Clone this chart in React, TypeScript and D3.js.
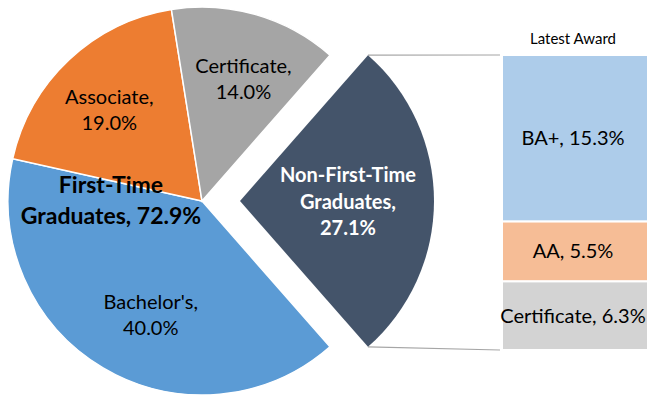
import * as d3 from 'd3';

const width = 647;
const height = 400;

// pie: first-time slices plus the combined "other" slice
const pieLabels = ["Non-First-Time Graduates", "Bachelor's", "Associate", "Certificate"];
const pieValues = [27.1, 40.0, 19.0, 14.0];
const pieColors = ['#44546A', '#5B9BD5', '#ED7D31', '#A5A5A5'];

// bar: breakdown of non-first-time graduates
const barLabels = ['BA+', 'AA', 'Certificate'];
const barValues = [15.3, 5.5, 6.3];
const barColors = ['#ADCCEA', '#F6BD96', '#D3D3D3'];

const firstTimeTotal = 72.9;

const cx = 202;
const cy = 201;
const radius = 194;
const explode = 38;

const fontFamily = 'Lato, "Open Sans", sans-serif';

const App = () => {
  const otherShare = pieValues[0] / d3.sum(pieValues);
  const start = Math.PI / 2 - otherShare * Math.PI;
  const slices = d3.pie<number>().sort(null).startAngle(start).endAngle(start + 2 * Math.PI)(pieValues);

  const sliceArc = d3.arc<d3.PieArcDatum<number>>().innerRadius(0).outerRadius(radius);
  const labelArc = d3.arc<d3.PieArcDatum<number>>().innerRadius(128).outerRadius(128);
  const otherLabelArc = d3.arc<d3.PieArcDatum<number>>().innerRadius(108).outerRadius(108);

  // small nudges to match where the labels sit
  const nudge = [[0, 0], [14, 4], [-5, 2], [6, 1]];

  const y = d3.scaleLinear().domain([0, d3.sum(barValues)]).range([55, 350]);
  const stacked = barValues.map((v, i) => ({ start: d3.sum(barValues.slice(0, i)), v }));
  const barX = 502;
  const barW = 150;
  const barMid = 573;

  const other = slices[0];
  const ox = cx + explode;
  const topPt = [ox + radius * Math.sin(other.startAngle), cy - radius * Math.cos(other.startAngle)];
  const botPt = [ox + radius * Math.sin(other.endAngle), cy - radius * Math.cos(other.endAngle)];

  const fmt = (v: number) => v.toFixed(1) + '%';
  const fs = 20;

  return (
    <svg width={width} height={height} style={{ position: 'absolute', left: 0, top: 0, background: '#fff' }} fontFamily={fontFamily}>
      {/* connector lines */}
      <line x1={topPt[0]} y1={topPt[1]} x2={barX - 2} y2={y(0)} stroke="#A6A6A6" strokeWidth={1.2} />
      <line x1={botPt[0]} y1={botPt[1]} x2={barX - 2} y2={y(d3.sum(barValues))} stroke="#A6A6A6" strokeWidth={1.2} />

      {slices.map((s, i) => (
        <path
          key={i}
          d={sliceArc(s) || ''}
          transform={`translate(${i === 0 ? ox : cx},${cy})`}
          fill={pieColors[i]}
          stroke="#fff"
          strokeWidth={i === 0 ? 0 : 1.5}
        />
      ))}

      {slices.map((s, i) => {
        if (i === 0) {
          const [lx, ly] = otherLabelArc.centroid(s);
          const words = ['Non-First-Time', 'Graduates,', fmt(pieValues[0])];
          return (
            <text key={i} x={ox + lx} textAnchor="middle" fill="#fff" fontWeight="bold" fontSize={fs}>
              {words.map((w, j) => (
                <tspan key={j} x={ox + lx} y={cy + ly - 19 + j * 26.5}>{w}</tspan>
              ))}
            </text>
          );
        }
        const [lx, ly] = labelArc.centroid(s);
        const x = cx + lx + nudge[i][0];
        const yy = cy + ly + nudge[i][1];
        return (
          <text key={i} textAnchor="middle" fill="#000" fontSize={fs}>
            <tspan x={x} y={yy - 6}>{pieLabels[i] + ','}</tspan>
            <tspan x={x} y={yy + 20}>{fmt(pieValues[i])}</tspan>
          </text>
        );
      })}

      <text textAnchor="middle" fill="#000" fontWeight="bold" fontSize={23}>
        <tspan x={111} y={193}>First-Time</tspan>
        <tspan x={111} y={224}>{'Graduates, ' + fmt(firstTimeTotal)}</tspan>
      </text>

      {stacked.map((b, i) => (
        <g key={i}>
          <rect x={barX} y={y(b.start)} width={barW} height={y(b.start + b.v) - y(b.start)} fill={barColors[i]} stroke="#fff" strokeWidth={2} />
          <text x={barMid} y={(y(b.start) + y(b.start + b.v)) / 2 + 7} textAnchor="middle" fill="#000" fontSize={fs}>
            {barLabels[i] + ', ' + fmt(b.v)}
          </text>
        </g>
      ))}

      <text x={barMid} y={44} textAnchor="middle" fill="#000" fontSize={15}>Latest Award</text>
    </svg>
  );
};

export default App;
